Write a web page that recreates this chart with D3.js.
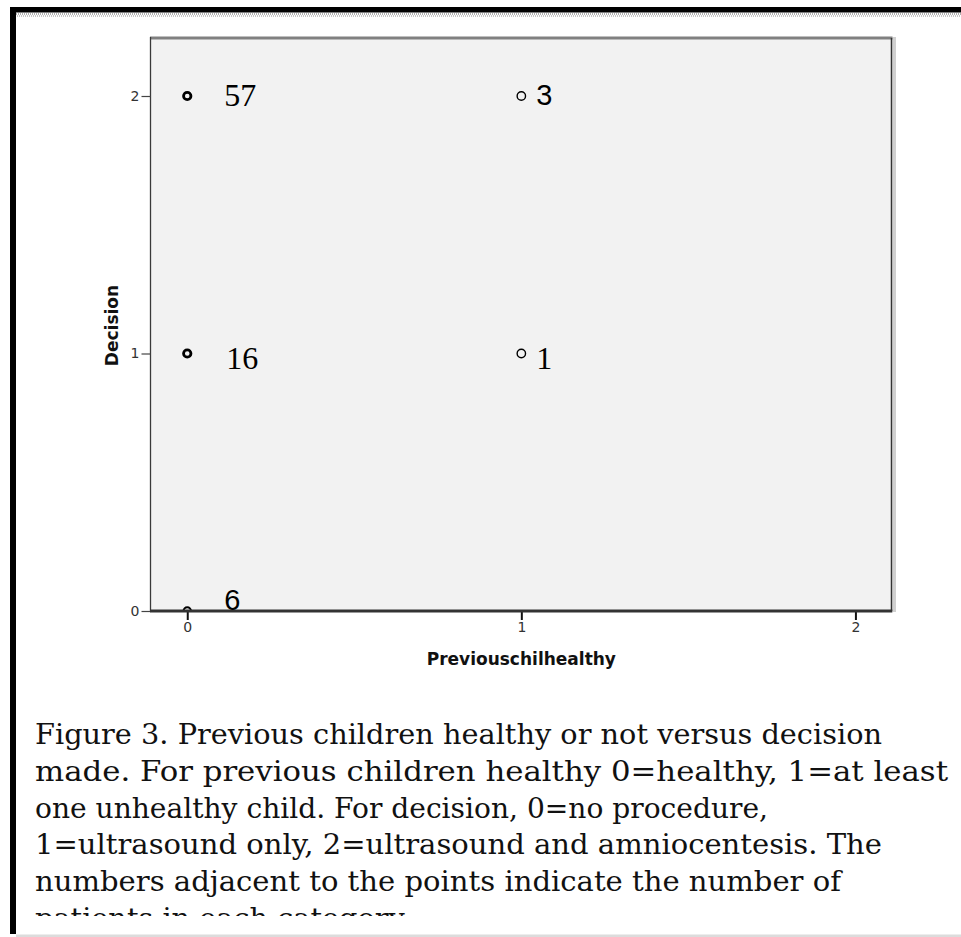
<!DOCTYPE html>
<html>
<head>
<meta charset="utf-8">
<script src="https://cdn.jsdelivr.net/npm/d3@7"></script>
<style>
  html, body { margin: 0; padding: 0; background: #fff; }
  svg { display: block; }
  .tick text { font-family: 'DejaVu Sans', sans-serif; font-size: 14px; }
</style>
</head>
<body>
<svg id="chart" width="961" height="937"></svg>
<script>
// ---------------- data ----------------
const xTicks = [0, 1, 2];
const yTicks = [0, 1, 2];
const pointX = [0, 1, 0, 1, 0];          // Previouschilhealthy
const pointY = [2, 2, 1, 1, 0];          // Decision
const pointCount = [57, 3, 16, 1, 6];    // patients in each category
const xTitle = "Previouschilhealthy";
const yTitle = "Decision";
const captionLines = [
  "Figure 3. Previous children healthy or not versus decision",
  "made. For previous children healthy 0=healthy, 1=at least",
  "one unhealthy child. For decision, 0=no procedure,",
  "1=ultrasound only, 2=ultrasound and amniocentesis. The",
  "numbers adjacent to the points indicate the number of",
  "patients in each category."
];

// ---------------- layout ----------------
const svg = d3.select("#chart");
const plot = { left: 150.5, right: 891.5, top: 38, bottom: 611 };

const x = d3.scaleLinear().domain([-0.11, 2.108]).range([plot.left, plot.right]);
const y = d3.scaleLinear().domain([0, 2]).range([plot.bottom, 96]);

// page frame
svg.append("rect").attr("x", 10).attr("y", 7).attr("width", 951).attr("height", 5.5).attr("fill", "#000");
svg.append("rect").attr("x", 10).attr("y", 7).attr("width", 6).attr("height", 927).attr("fill", "#000");
svg.append("line").attr("x1", 16).attr("x2", 961).attr("y1", 14).attr("y2", 14)
  .attr("stroke", "#b0b0b0").attr("stroke-width", 2).attr("stroke-dasharray", "1,1");
svg.append("line").attr("x1", 16).attr("x2", 961).attr("y1", 16).attr("y2", 16)
  .attr("stroke", "#c8c8c8").attr("stroke-width", 2).attr("stroke-dasharray", "1,1").attr("stroke-dashoffset", 1);
svg.append("rect").attr("x", 16).attr("y", 934.5).attr("width", 945).attr("height", 2.5).attr("fill", "#dcdcdc");

// plot background + shadow
svg.append("rect").attr("x", plot.right + 1).attr("y", plot.top - 1)
  .attr("width", 3.5).attr("height", plot.bottom - plot.top + 2).attr("fill", "#d0d0d0");
svg.append("rect").attr("x", plot.left).attr("y", plot.top)
  .attr("width", plot.right - plot.left).attr("height", plot.bottom - plot.top).attr("fill", "#f2f2f2");

svg.append("defs").append("clipPath").attr("id", "plotClip")
  .append("rect").attr("x", plot.left).attr("y", plot.top)
  .attr("width", plot.right - plot.left).attr("height", plot.bottom - plot.top);

// points
const pts = pointX.map((v, i) => ({ x: v, y: pointY[i], n: pointCount[i] }));
const strokeW = d3.scaleThreshold().domain([5, 10]).range([1.4, 2.1, 2.8]);
svg.append("g").attr("clip-path", "url(#plotClip)")
  .selectAll("circle").data(pts).join("circle")
  .attr("cx", d => x(d.x))
  .attr("cy", d => y(d.y))
  .attr("r", d => d.n >= 5 ? 3.7 : 4.2)
  .attr("fill", "none")
  .attr("stroke", "#000")
  .attr("stroke-width", d => strokeW(d.n));

// border lines
svg.append("line").attr("x1", plot.left - 0.5).attr("x2", plot.right + 1).attr("y1", plot.top).attr("y2", plot.top)
  .attr("stroke", "#808080").attr("stroke-width", 3);
svg.append("line").attr("x1", plot.right).attr("x2", plot.right).attr("y1", plot.top).attr("y2", plot.bottom)
  .attr("stroke", "#333").attr("stroke-width", 1.5);
svg.append("line").attr("x1", plot.left).attr("x2", plot.left).attr("y1", plot.top - 1).attr("y2", plot.bottom)
  .attr("stroke", "#3a3a3a").attr("stroke-width", 1.3);

// y axis
const yAxis = d3.axisLeft(y).tickValues(yTicks).tickFormat(d3.format("d")).tickSize(9).tickPadding(2);
const gy = svg.append("g").attr("transform", `translate(${plot.left},0)`).call(yAxis);
gy.attr("font-size", 14).attr("font-family", "DejaVu Sans");
gy.select(".domain").remove();
gy.selectAll(".tick line").attr("stroke", "#444").attr("stroke-width", 1.2);
gy.selectAll(".tick text").attr("font-size", 14).attr("fill", "#333");

// x axis
const xAxis = d3.axisBottom(x).tickValues(xTicks).tickFormat(d3.format("d")).tickSize(9).tickPadding(2);
const gx = svg.append("g").attr("transform", `translate(0,${plot.bottom})`).call(xAxis);
gx.attr("font-size", 14).attr("font-family", "DejaVu Sans");
gx.select(".domain").remove();
gx.selectAll(".tick line").attr("stroke", "#111").attr("stroke-width", 2);
gx.selectAll(".tick text").attr("font-size", 14).attr("fill", "#333");

svg.append("line").attr("x1", plot.left - 0.5).attr("x2", plot.right + 0.8).attr("y1", plot.bottom).attr("y2", plot.bottom)
  .attr("stroke", "#333").attr("stroke-width", 3);

// count labels
const labelStyle = [
  { dx: 37, dy: 10, serif: true },
  { dx: 15, dy: 9, serif: false },
  { dx: 39, dy: 15.5, serif: true },
  { dx: 15, dy: 15.5, serif: true },
  { dx: 37, dy: -1, serif: false }
];
svg.append("g").selectAll("text").data(pts).join("text")
  .attr("x", (d, i) => x(d.x) + labelStyle[i].dx)
  .attr("y", (d, i) => y(d.y) + labelStyle[i].dy)
  .attr("font-family", (d, i) => labelStyle[i].serif ? "'Liberation Serif', serif" : "'Liberation Sans', sans-serif")
  .attr("font-size", (d, i) => labelStyle[i].serif ? 32 : 29)
  .attr("fill", "#000")
  .text(d => d.n);

// axis titles
svg.append("text")
  .attr("transform", `translate(118,${(plot.top + plot.bottom) / 2 + 1}) rotate(-90)`)
  .attr("text-anchor", "middle")
  .attr("font-family", "'DejaVu Sans', sans-serif").attr("font-weight", "bold").attr("font-size", 17)
  .attr("fill", "#111")
  .text(yTitle);
svg.append("text")
  .attr("x", x(1)).attr("y", 665)
  .attr("text-anchor", "middle")
  .attr("font-family", "'DejaVu Sans', sans-serif").attr("font-weight", "bold").attr("font-size", 17)
  .attr("fill", "#111")
  .text(xTitle);

// caption
svg.select("defs").append("clipPath").attr("id", "capClip")
  .append("rect").attr("x", 0).attr("y", 680).attr("width", 961).attr("height", 236);
const lineEnds = [882, 948, 768, 882, 841, null];
const cap = svg.append("g").attr("clip-path", "url(#capClip)");
let ratio = 1;
captionLines.forEach((t, i) => {
  const txt = cap.append("text")
    .attr("x", 35).attr("y", 744 + i * 36.75)
    .attr("font-family", "'DejaVu Serif', serif").attr("font-size", 27)
    .attr("fill", "#111")
    .text(t);
  const natural = txt.node().getComputedTextLength();
  if (lineEnds[i] !== null) {
    const target = lineEnds[i] - 35;
    if (i === 0) ratio = target / natural;
    txt.attr("textLength", target).attr("lengthAdjust", "spacingAndGlyphs");
  } else {
    txt.attr("textLength", natural * ratio).attr("lengthAdjust", "spacingAndGlyphs");
  }
});
</script>
</body>
</html>
